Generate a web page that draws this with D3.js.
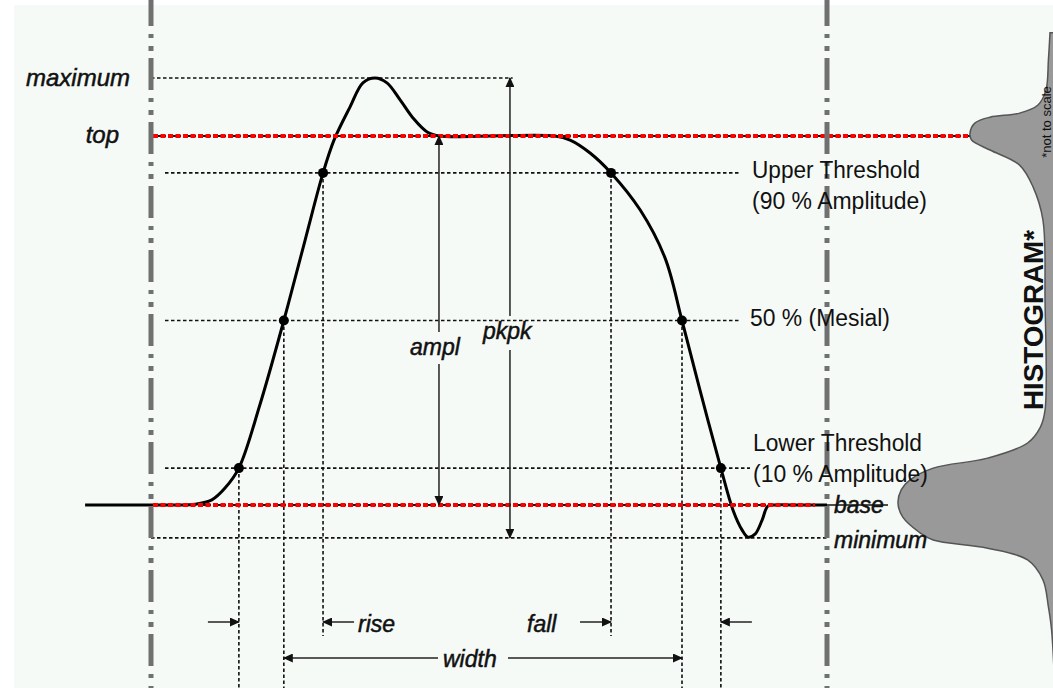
<!DOCTYPE html>
<html>
<head>
<meta charset="utf-8">
<script src="https://cdnjs.cloudflare.com/ajax/libs/d3/7.8.5/d3.min.js"></script>
<style>
  body { margin: 0; background: #fff; }
  svg { display: block; }
</style>
</head>
<body>
<svg id="chart" width="1053" height="688"></svg>
<script>
// pulse: time (0..200) vs amplitude (% of base->top)
var pulseT = [-19.5, -5, 8, 13, 18, 21.9, 26, 32.2, 39.3, 45.6, 50.9, 54.2, 58.9, 62.7, 66.3, 69.8, 73.7, 77.5, 81.7, 85.5, 103.3, 119.5, 124, 129.9, 136.1, 144.7, 152.1, 157.1, 162.4, 168.6, 172.2, 174.9, 176.6, 178.7, 180.8, 182.5, 184.6, 192, 200];
var pulseA = [0, 0, 0, 0.2, 1.4, 4.6, 10, 27.1, 50, 71.8, 90, 99, 107.9, 114.4, 115.7, 114.4, 109.8, 104.9, 101.1, 100, 100.1, 100, 98.9, 95.4, 90, 80, 66.9, 50, 31.2, 10, -1.4, -6.8, -8.7, -7.9, -4.1, -0.3, 0, 0, 0];

// measurement levels
var levelNames = ["maximum", "top", "upper", "mesial", "lower", "base", "minimum"];
var levelValues = [115.7, 100, 90, 50, 10, 0, -8.9];

// threshold crossing times
var crossT = [26, 39.3, 50.9, 136.1, 157.1, 168.6];
var crossA = [10, 50, 90, 90, 50, 10];

// histogram of amplitudes (relative count)
var histA = [128, 120.6, 112.5, 108.4, 106.2, 105.1, 103.5, 100.8, 98.9, 96.2, 92.1, 86.2, 77.2, 55.6, 25.7, 21.1, 16.8, 12.7, 10, 6.8, 4.1, 0.5, -3.3, -7.6, -9.5, -11.7, -14.9, -20.3, -27.6, -33.9, -50];
var histC = [0.05, 0.06, 0.075, 0.125, 0.24, 0.425, 0.52, 0.55, 0.54, 0.425, 0.24, 0.156, 0.094, 0.081, 0.081, 0.11, 0.19, 0.44, 0.78, 0.925, 0.98, 1, 0.97, 0.86, 0.78, 0.44, 0.19, 0.094, 0.06, 0.04, 0.02];

var svg = d3.select("#chart");
var W = 1053, H = 688;

var x = d3.scaleLinear().domain([0, 200]).range([151, 827]);
var y = d3.scaleLinear().domain([0, 100]).range([505, 136]);
var hx = d3.scaleLinear().domain([0, 1]).range([1058, 898]);

var lv = {};
levelNames.forEach(function(n, i) { lv[n] = levelValues[i]; });

// background
svg.append("rect").attr("width", W).attr("height", H).attr("fill", "#fff");
svg.append("rect").attr("x", 14).attr("y", 5).attr("width", W - 14).attr("height", H - 5).attr("fill", "#f6faf7");

var defs = svg.append("defs");
defs.append("marker")
  .attr("id", "head")
  .attr("markerUnits", "userSpaceOnUse")
  .attr("markerWidth", 10).attr("markerHeight", 9)
  .attr("refX", 9).attr("refY", 4.5)
  .attr("orient", "auto-start-reverse")
  .append("path").attr("d", "M0,0 L10,4.5 L0,9 z").attr("fill", "#111");

var dotted = function(x1, y1, x2, y2) {
  return svg.append("line")
    .attr("x1", x1).attr("y1", y1).attr("x2", x2).attr("y2", y2)
    .attr("stroke", "#111").attr("stroke-width", 1.6)
    .attr("stroke-dasharray", "3.5,2.5");
};

// horizontal dotted levels
dotted(x(0), y(lv.maximum), x(107), y(lv.maximum));
dotted(165, y(lv.upper), 740, y(lv.upper));
dotted(165, y(lv.mesial), 741, y(lv.mesial));
dotted(165, y(lv.lower), 750, y(lv.lower));
dotted(x(0), y(lv.minimum), x(200), y(lv.minimum));

// vertical dotted lines at crossings
var bottoms = [688, 688, 636, 636, 688, 688];
crossT.forEach(function(t, i) {
  dotted(x(t), y(crossA[i]), x(t), bottoms[i]);
});

// pulse curve
var pts = pulseT.map(function(t, i) { return [t, pulseA[i]]; });
var line = d3.line()
  .x(function(d) { return x(d[0]); })
  .y(function(d) { return y(d[1]); })
  .curve(d3.curveCatmullRom.alpha(0.5));
svg.append("path").datum(pts)
  .attr("d", line)
  .attr("fill", "none").attr("stroke", "#000").attr("stroke-width", 3);

// red top / base lines
var redLine = function(x1, x2, yy) {
  svg.append("line").attr("x1", x1).attr("x2", x2).attr("y1", yy).attr("y2", yy)
    .attr("stroke", "#111").attr("stroke-width", 2).attr("stroke-dasharray", "3,2");
  svg.append("line").attr("x1", x1).attr("x2", x2).attr("y1", yy).attr("y2", yy)
    .attr("stroke", "#f00").attr("stroke-width", 4).attr("stroke-dasharray", "5,2.5");
};
redLine(x(0) + 2, 990, y(lv.top));
redLine(x(0) + 2, 815, y(lv.base));

// crossing dots
crossT.forEach(function(t, i) {
  svg.append("circle").attr("cx", x(t)).attr("cy", y(crossA[i])).attr("r", 5).attr("fill", "#000");
});

// ampl & pkpk arrows
var arrow = function(x1, y1, x2, y2) {
  return svg.append("line")
    .attr("x1", x1).attr("y1", y1).attr("x2", x2).attr("y2", y2)
    .attr("stroke", "#222").attr("stroke-width", 1.5)
    .attr("marker-end", "url(#head)");
};
var amplX = x(85.2), pkX = x(106.2);
arrow(amplX, 332, amplX, y(lv.top));
arrow(amplX, 364, amplX, y(lv.base));
arrow(pkX, 316, pkX, y(lv.maximum));
arrow(pkX, 350, pkX, y(lv.minimum));

// rise / fall / width arrows
var ay = 622, wy = 658;
arrow(x(crossT[0]) - 31, ay, x(crossT[0]), ay);
arrow(x(crossT[2]) + 31, ay, x(crossT[2]), ay);
arrow(x(crossT[3]) - 31, ay, x(crossT[3]), ay);
arrow(x(crossT[5]) + 31, ay, x(crossT[5]), ay);
arrow(438, wy, x(crossT[1]), wy);
arrow(508, wy, x(crossT[4]), wy);

// strike line through "base"
svg.append("line").attr("x1", x(200)).attr("x2", 888).attr("y1", y(lv.base)).attr("y2", y(lv.base))
  .attr("stroke", "#111").attr("stroke-width", 1.5);

// histogram
var area = d3.area()
  .y(function(d, i) { return y(histA[i]); })
  .x0(1060)
  .x1(function(d, i) { return hx(histC[i]); })
  .curve(d3.curveCatmullRom);
svg.append("path").datum(histA)
  .attr("d", area)
  .attr("fill", "#999").attr("stroke", "#555").attr("stroke-width", 1.5);

// gray dash-dot bounds
[0, 200].forEach(function(t) {
  svg.append("line").attr("x1", x(t)).attr("x2", x(t)).attr("y1", 0).attr("y2", H)
    .attr("stroke", "#707070").attr("stroke-width", 5)
    .attr("stroke-dasharray", "32,8,4,8,5,7").attr("stroke-dashoffset", 6);
});

// labels
var italic = function(txt, xx, yy, size, anchor) {
  return svg.append("text").attr("x", xx).attr("y", yy)
    .attr("font-family", "'Liberation Sans', Arial, sans-serif")
    .attr("font-style", "italic").attr("font-size", size)
    .attr("text-anchor", anchor || "start")
    .attr("fill", "#111").attr("stroke", "#111").attr("stroke-width", 0.5)
    .text(txt);
};
italic("maximum", 130, 86, 24, "end");
italic("top", 119, 143, 24, "end");
italic("ampl", 410, 355, 23);
italic("pkpk", 483, 339, 23);
italic("base", 834, 513, 23);
italic("minimum", 834, 548, 23);
italic("rise", 358, 632, 23);
italic("fall", 527, 632, 23);
italic("width", 443, 667, 23);

var plain = function(txt, xx, yy, len) {
  return svg.append("text").attr("x", xx).attr("y", yy)
    .attr("font-family", "'Liberation Sans Narrow', 'Liberation Sans', Arial, sans-serif")
    .attr("font-size", 23)
    .attr("textLength", len).attr("lengthAdjust", "spacingAndGlyphs")
    .attr("fill", "#111")
    .text(txt);
};
plain("Upper Threshold", 752, 178, 168);
plain("(90 % Amplitude)", 752, 209, 175);
plain("50 % (Mesial)", 750, 326, 140);
plain("Lower Threshold", 753, 451, 169);
plain("(10 % Amplitude)", 753, 482, 175);

svg.append("text")
  .attr("transform", "translate(1043,320) rotate(-90)")
  .attr("text-anchor", "middle")
  .attr("font-family", "'Liberation Sans', Arial, sans-serif")
  .attr("font-weight", "bold").attr("font-size", 27)
  .attr("textLength", 180).attr("lengthAdjust", "spacingAndGlyphs")
  .attr("fill", "#111")
  .text("HISTOGRAM*");

svg.append("text")
  .attr("transform", "translate(1051,122) rotate(-90)")
  .attr("text-anchor", "middle")
  .attr("font-family", "'Liberation Sans', Arial, sans-serif")
  .attr("font-size", 13)
  .attr("fill", "#111")
  .text("*not to scale");
</script>
</body>
</html>
